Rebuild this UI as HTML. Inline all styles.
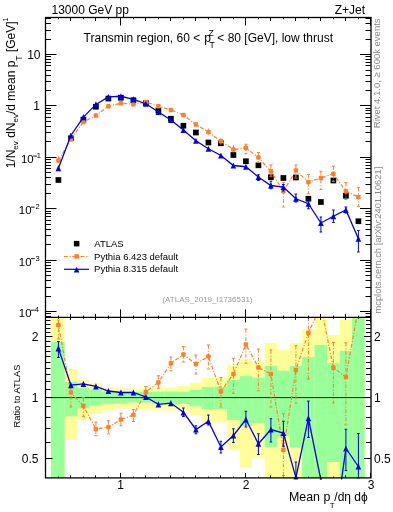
<!DOCTYPE html>
<html><head><meta charset="utf-8"><style>
html,body{margin:0;padding:0;background:#fff;width:393px;height:512px;overflow:hidden}
svg{display:block;will-change:transform}
</style></head><body>
<svg width="393" height="512" viewBox="0 0 393 512">
<rect width="393" height="512" fill="#fff"/>
<g>
<rect x="50.90" y="317.40" width="13.75" height="160.50" fill="#ffff99"/>
<rect x="64.65" y="368.90" width="12.50" height="71.10" fill="#ffff99"/>
<rect x="77.15" y="380.00" width="12.50" height="40.25" fill="#ffff99"/>
<rect x="89.65" y="382.80" width="12.50" height="31.30" fill="#ffff99"/>
<rect x="102.15" y="387.10" width="12.50" height="23.40" fill="#ffff99"/>
<rect x="114.65" y="388.10" width="12.50" height="20.55" fill="#ffff99"/>
<rect x="127.15" y="388.40" width="12.50" height="20.25" fill="#ffff99"/>
<rect x="139.65" y="388.40" width="12.50" height="20.90" fill="#ffff99"/>
<rect x="152.15" y="388.20" width="12.50" height="22.30" fill="#ffff99"/>
<rect x="164.65" y="387.50" width="12.50" height="23.00" fill="#ffff99"/>
<rect x="177.15" y="385.90" width="12.50" height="24.90" fill="#ffff99"/>
<rect x="189.65" y="382.80" width="12.50" height="32.70" fill="#ffff99"/>
<rect x="202.15" y="377.90" width="12.50" height="44.70" fill="#ffff99"/>
<rect x="214.65" y="377.50" width="12.50" height="45.10" fill="#ffff99"/>
<rect x="227.15" y="364.50" width="12.50" height="85.50" fill="#ffff99"/>
<rect x="239.65" y="359.00" width="12.50" height="108.50" fill="#ffff99"/>
<rect x="252.15" y="361.50" width="12.50" height="96.50" fill="#ffff99"/>
<rect x="264.65" y="342.80" width="12.50" height="135.10" fill="#ffff99"/>
<rect x="277.15" y="349.80" width="12.50" height="128.10" fill="#ffff99"/>
<rect x="289.65" y="342.80" width="12.50" height="135.10" fill="#ffff99"/>
<rect x="302.15" y="329.00" width="12.50" height="148.90" fill="#ffff99"/>
<rect x="314.65" y="317.40" width="12.50" height="160.50" fill="#ffff99"/>
<rect x="327.15" y="335.00" width="12.50" height="142.90" fill="#ffff99"/>
<rect x="339.65" y="319.60" width="12.50" height="158.30" fill="#ffff99"/>
<rect x="352.15" y="317.40" width="12.50" height="160.50" fill="#ffff99"/>
<rect x="50.90" y="342.00" width="13.75" height="135.90" fill="#99ff99"/>
<rect x="64.65" y="382.00" width="12.50" height="34.40" fill="#99ff99"/>
<rect x="77.15" y="387.70" width="12.50" height="20.70" fill="#99ff99"/>
<rect x="89.65" y="389.50" width="12.50" height="16.10" fill="#99ff99"/>
<rect x="102.15" y="391.40" width="12.50" height="12.40" fill="#99ff99"/>
<rect x="114.65" y="392.60" width="12.50" height="10.60" fill="#99ff99"/>
<rect x="127.15" y="392.00" width="12.50" height="10.50" fill="#99ff99"/>
<rect x="139.65" y="392.00" width="12.50" height="10.50" fill="#99ff99"/>
<rect x="152.15" y="391.70" width="12.50" height="12.10" fill="#99ff99"/>
<rect x="164.65" y="391.40" width="12.50" height="13.00" fill="#99ff99"/>
<rect x="177.15" y="391.70" width="12.50" height="12.20" fill="#99ff99"/>
<rect x="189.65" y="389.80" width="12.50" height="16.60" fill="#99ff99"/>
<rect x="202.15" y="386.85" width="12.50" height="22.35" fill="#99ff99"/>
<rect x="214.65" y="386.50" width="12.50" height="22.70" fill="#99ff99"/>
<rect x="227.15" y="379.80" width="12.50" height="40.30" fill="#99ff99"/>
<rect x="239.65" y="376.10" width="12.50" height="49.80" fill="#99ff99"/>
<rect x="252.15" y="377.75" width="12.50" height="45.25" fill="#99ff99"/>
<rect x="264.65" y="365.75" width="12.50" height="81.25" fill="#99ff99"/>
<rect x="277.15" y="370.75" width="12.50" height="65.50" fill="#99ff99"/>
<rect x="289.65" y="365.90" width="12.50" height="81.60" fill="#99ff99"/>
<rect x="302.15" y="357.10" width="12.50" height="120.80" fill="#99ff99"/>
<rect x="314.65" y="345.00" width="12.50" height="132.90" fill="#99ff99"/>
<rect x="327.15" y="363.00" width="12.50" height="99.00" fill="#99ff99"/>
<rect x="339.65" y="350.90" width="12.50" height="127.00" fill="#99ff99"/>
<rect x="352.15" y="317.40" width="12.50" height="160.50" fill="#99ff99"/>
</g>
<line x1="45.5" y1="397.6" x2="371.0" y2="397.6" stroke="#222" stroke-width="1"/>
<clipPath id="cm"><rect x="45.5" y="17.5" width="325.5" height="299.9"/></clipPath>
<clipPath id="cr"><rect x="45.5" y="317.4" width="325.5" height="162.0"/></clipPath>
<g clip-path="url(#cm)">
<rect x="55.55" y="177.15" width="5.7" height="5.7" rx="0" fill="#000"/><rect x="68.05" y="135.45" width="5.7" height="5.7" rx="0" fill="#000"/><rect x="80.55" y="116.75" width="5.7" height="5.7" rx="0" fill="#000"/><rect x="93.05" y="103.90" width="5.7" height="5.7" rx="0" fill="#000"/><rect x="105.55" y="95.75" width="5.7" height="5.7" rx="0" fill="#000"/><rect x="118.05" y="94.90" width="5.7" height="5.7" rx="0" fill="#000"/><rect x="130.55" y="97.35" width="5.7" height="5.7" rx="0" fill="#000"/><rect x="143.05" y="100.15" width="5.7" height="5.7" rx="0" fill="#000"/><rect x="155.55" y="107.65" width="5.7" height="5.7" rx="0" fill="#000"/><rect x="168.05" y="115.90" width="5.7" height="5.7" rx="0" fill="#000"/><rect x="180.55" y="122.90" width="5.7" height="5.7" rx="0" fill="#000"/><rect x="193.05" y="129.65" width="5.7" height="5.7" rx="0" fill="#000"/><rect x="205.55" y="139.65" width="5.7" height="5.7" rx="0" fill="#000"/><rect x="218.05" y="140.45" width="5.7" height="5.7" rx="0" fill="#000"/><rect x="230.55" y="152.15" width="5.7" height="5.7" rx="0" fill="#000"/><rect x="243.05" y="158.40" width="5.7" height="5.7" rx="0" fill="#000"/><rect x="255.55" y="162.45" width="5.7" height="5.7" rx="0" fill="#000"/><rect x="268.05" y="174.35" width="5.7" height="5.7" rx="0" fill="#000"/><rect x="280.55" y="175.15" width="5.7" height="5.7" rx="0" fill="#000"/><rect x="293.05" y="174.65" width="5.7" height="5.7" rx="0" fill="#000"/><rect x="305.55" y="195.90" width="5.7" height="5.7" rx="0" fill="#000"/><rect x="318.05" y="199.15" width="5.7" height="5.7" rx="0" fill="#000"/><rect x="330.55" y="177.65" width="5.7" height="5.7" rx="0" fill="#000"/><rect x="343.05" y="192.90" width="5.7" height="5.7" rx="0" fill="#000"/><rect x="355.55" y="218.40" width="5.7" height="5.7" rx="0" fill="#000"/>
<polyline points="58.40,160.60 70.90,139.20 83.40,122.00 95.90,115.50 108.40,106.25 120.90,103.25 133.40,104.25 145.90,102.00 158.40,106.25 170.90,110.00 183.40,115.00 195.90,124.50 208.40,132.00 220.90,141.25 233.40,149.50 245.90,148.00 258.40,157.50 270.90,171.25 283.40,191.25 295.90,170.50 308.40,182.00 320.90,178.00 333.40,173.75 345.90,191.25 358.40,197.00" fill="none" stroke="#ff7f2a" stroke-width="1.2" stroke-dasharray="3.8,1.9,1.1,1.5"/>
<line x1="195.90" y1="122" x2="195.90" y2="127" stroke="#ff7f2a" stroke-width="1" stroke-dasharray="3.8,1.9,1.1,1.5"/><line x1="208.40" y1="128.5" x2="208.40" y2="135.5" stroke="#ff7f2a" stroke-width="1" stroke-dasharray="3.8,1.9,1.1,1.5"/><line x1="220.90" y1="137.8" x2="220.90" y2="145.3" stroke="#ff7f2a" stroke-width="1" stroke-dasharray="3.8,1.9,1.1,1.5"/><line x1="233.40" y1="145" x2="233.40" y2="153.75" stroke="#ff7f2a" stroke-width="1" stroke-dasharray="3.8,1.9,1.1,1.5"/><line x1="245.90" y1="144.25" x2="245.90" y2="153.75" stroke="#ff7f2a" stroke-width="1" stroke-dasharray="3.8,1.9,1.1,1.5"/><line x1="244.40" y1="144.25" x2="247.40" y2="144.25" stroke="#ff7f2a" stroke-width="1"/><line x1="244.40" y1="153.75" x2="247.40" y2="153.75" stroke="#ff7f2a" stroke-width="1"/><line x1="258.40" y1="152.5" x2="258.40" y2="162.5" stroke="#ff7f2a" stroke-width="1" stroke-dasharray="3.8,1.9,1.1,1.5"/><line x1="256.90" y1="152.5" x2="259.90" y2="152.5" stroke="#ff7f2a" stroke-width="1"/><line x1="256.90" y1="162.5" x2="259.90" y2="162.5" stroke="#ff7f2a" stroke-width="1"/><line x1="270.90" y1="165" x2="270.90" y2="176.25" stroke="#ff7f2a" stroke-width="1" stroke-dasharray="3.8,1.9,1.1,1.5"/><line x1="269.40" y1="165" x2="272.40" y2="165" stroke="#ff7f2a" stroke-width="1"/><line x1="269.40" y1="176.25" x2="272.40" y2="176.25" stroke="#ff7f2a" stroke-width="1"/><line x1="283.40" y1="182.5" x2="283.40" y2="207" stroke="#ff7f2a" stroke-width="1" stroke-dasharray="3.8,1.9,1.1,1.5"/><line x1="281.90" y1="182.5" x2="284.90" y2="182.5" stroke="#ff7f2a" stroke-width="1"/><line x1="281.90" y1="207" x2="284.90" y2="207" stroke="#ff7f2a" stroke-width="1"/><line x1="295.90" y1="165" x2="295.90" y2="178" stroke="#ff7f2a" stroke-width="1" stroke-dasharray="3.8,1.9,1.1,1.5"/><line x1="294.40" y1="165" x2="297.40" y2="165" stroke="#ff7f2a" stroke-width="1"/><line x1="294.40" y1="178" x2="297.40" y2="178" stroke="#ff7f2a" stroke-width="1"/><line x1="308.40" y1="174.5" x2="308.40" y2="193.75" stroke="#ff7f2a" stroke-width="1" stroke-dasharray="3.8,1.9,1.1,1.5"/><line x1="306.90" y1="174.5" x2="309.90" y2="174.5" stroke="#ff7f2a" stroke-width="1"/><line x1="306.90" y1="193.75" x2="309.90" y2="193.75" stroke="#ff7f2a" stroke-width="1"/><line x1="320.90" y1="171.25" x2="320.90" y2="189.4" stroke="#ff7f2a" stroke-width="1" stroke-dasharray="3.8,1.9,1.1,1.5"/><line x1="319.40" y1="171.25" x2="322.40" y2="171.25" stroke="#ff7f2a" stroke-width="1"/><line x1="319.40" y1="189.4" x2="322.40" y2="189.4" stroke="#ff7f2a" stroke-width="1"/><line x1="333.40" y1="166.25" x2="333.40" y2="181.25" stroke="#ff7f2a" stroke-width="1" stroke-dasharray="3.8,1.9,1.1,1.5"/><line x1="331.90" y1="166.25" x2="334.90" y2="166.25" stroke="#ff7f2a" stroke-width="1"/><line x1="331.90" y1="181.25" x2="334.90" y2="181.25" stroke="#ff7f2a" stroke-width="1"/><line x1="345.90" y1="182.5" x2="345.90" y2="199.5" stroke="#ff7f2a" stroke-width="1" stroke-dasharray="3.8,1.9,1.1,1.5"/><line x1="344.40" y1="182.5" x2="347.40" y2="182.5" stroke="#ff7f2a" stroke-width="1"/><line x1="344.40" y1="199.5" x2="347.40" y2="199.5" stroke="#ff7f2a" stroke-width="1"/><line x1="358.40" y1="187.5" x2="358.40" y2="206.25" stroke="#ff7f2a" stroke-width="1" stroke-dasharray="3.8,1.9,1.1,1.5"/><line x1="356.90" y1="187.5" x2="359.90" y2="187.5" stroke="#ff7f2a" stroke-width="1"/><line x1="356.90" y1="206.25" x2="359.90" y2="206.25" stroke="#ff7f2a" stroke-width="1"/><line x1="58.40" y1="156.25" x2="58.40" y2="164.4" stroke="#ff7f2a" stroke-width="1" stroke-dasharray="3.8,1.9,1.1,1.5"/>
<rect x="56.15" y="158.35" width="4.5" height="4.5" rx="1" fill="#ff7f2a"/><rect x="68.65" y="136.95" width="4.5" height="4.5" rx="1" fill="#ff7f2a"/><rect x="81.15" y="119.75" width="4.5" height="4.5" rx="1" fill="#ff7f2a"/><rect x="93.65" y="113.25" width="4.5" height="4.5" rx="1" fill="#ff7f2a"/><rect x="106.15" y="104.00" width="4.5" height="4.5" rx="1" fill="#ff7f2a"/><rect x="118.65" y="101.00" width="4.5" height="4.5" rx="1" fill="#ff7f2a"/><rect x="131.15" y="102.00" width="4.5" height="4.5" rx="1" fill="#ff7f2a"/><rect x="143.65" y="99.75" width="4.5" height="4.5" rx="1" fill="#ff7f2a"/><rect x="156.15" y="104.00" width="4.5" height="4.5" rx="1" fill="#ff7f2a"/><rect x="168.65" y="107.75" width="4.5" height="4.5" rx="1" fill="#ff7f2a"/><rect x="181.15" y="112.75" width="4.5" height="4.5" rx="1" fill="#ff7f2a"/><rect x="193.65" y="122.25" width="4.5" height="4.5" rx="1" fill="#ff7f2a"/><rect x="206.15" y="129.75" width="4.5" height="4.5" rx="1" fill="#ff7f2a"/><rect x="218.65" y="139.00" width="4.5" height="4.5" rx="1" fill="#ff7f2a"/><rect x="231.15" y="147.25" width="4.5" height="4.5" rx="1" fill="#ff7f2a"/><rect x="243.65" y="145.75" width="4.5" height="4.5" rx="1" fill="#ff7f2a"/><rect x="256.15" y="155.25" width="4.5" height="4.5" rx="1" fill="#ff7f2a"/><rect x="268.65" y="169.00" width="4.5" height="4.5" rx="1" fill="#ff7f2a"/><rect x="281.15" y="189.00" width="4.5" height="4.5" rx="1" fill="#ff7f2a"/><rect x="293.65" y="168.25" width="4.5" height="4.5" rx="1" fill="#ff7f2a"/><rect x="306.15" y="179.75" width="4.5" height="4.5" rx="1" fill="#ff7f2a"/><rect x="318.65" y="175.75" width="4.5" height="4.5" rx="1" fill="#ff7f2a"/><rect x="331.15" y="171.50" width="4.5" height="4.5" rx="1" fill="#ff7f2a"/><rect x="343.65" y="189.00" width="4.5" height="4.5" rx="1" fill="#ff7f2a"/><rect x="356.15" y="194.75" width="4.5" height="4.5" rx="1" fill="#ff7f2a"/>
<polyline points="58.40,168.20 70.90,135.50 83.40,117.10 95.90,104.40 108.40,96.85 120.90,96.25 133.40,99.40 145.90,103.75 158.40,112.00 170.90,120.00 183.40,130.00 195.90,140.75 208.40,148.75 220.90,155.50 233.40,165.50 245.90,166.75 258.40,177.00 270.90,185.50 283.40,187.00 295.90,198.75 308.40,203.75 320.90,223.00 333.40,216.25 345.90,210.00 358.40,238.75" fill="none" stroke="#0000e6" stroke-width="1.3"/>
<line x1="258.40" y1="174.75" x2="258.40" y2="180.5" stroke="#0000e6" stroke-width="1" /><line x1="257.10" y1="174.75" x2="259.70" y2="174.75" stroke="#0000e6" stroke-width="1"/><line x1="257.10" y1="180.5" x2="259.70" y2="180.5" stroke="#0000e6" stroke-width="1"/><line x1="270.90" y1="181.25" x2="270.90" y2="188.75" stroke="#0000e6" stroke-width="1" /><line x1="269.60" y1="181.25" x2="272.20" y2="181.25" stroke="#0000e6" stroke-width="1"/><line x1="269.60" y1="188.75" x2="272.20" y2="188.75" stroke="#0000e6" stroke-width="1"/><line x1="283.40" y1="184.5" x2="283.40" y2="191" stroke="#0000e6" stroke-width="1" /><line x1="282.10" y1="184.5" x2="284.70" y2="184.5" stroke="#0000e6" stroke-width="1"/><line x1="282.10" y1="191" x2="284.70" y2="191" stroke="#0000e6" stroke-width="1"/><line x1="295.90" y1="194" x2="295.90" y2="202" stroke="#0000e6" stroke-width="1" /><line x1="294.60" y1="194" x2="297.20" y2="194" stroke="#0000e6" stroke-width="1"/><line x1="294.60" y1="202" x2="297.20" y2="202" stroke="#0000e6" stroke-width="1"/><line x1="308.40" y1="200" x2="308.40" y2="208.75" stroke="#0000e6" stroke-width="1" /><line x1="307.10" y1="200" x2="309.70" y2="200" stroke="#0000e6" stroke-width="1"/><line x1="307.10" y1="208.75" x2="309.70" y2="208.75" stroke="#0000e6" stroke-width="1"/><line x1="320.90" y1="217" x2="320.90" y2="232" stroke="#0000e6" stroke-width="1" /><line x1="319.60" y1="217" x2="322.20" y2="217" stroke="#0000e6" stroke-width="1"/><line x1="319.60" y1="232" x2="322.20" y2="232" stroke="#0000e6" stroke-width="1"/><line x1="333.40" y1="210" x2="333.40" y2="222.5" stroke="#0000e6" stroke-width="1" /><line x1="332.10" y1="210" x2="334.70" y2="210" stroke="#0000e6" stroke-width="1"/><line x1="332.10" y1="222.5" x2="334.70" y2="222.5" stroke="#0000e6" stroke-width="1"/><line x1="345.90" y1="207" x2="345.90" y2="213" stroke="#0000e6" stroke-width="1" /><line x1="344.60" y1="207" x2="347.20" y2="207" stroke="#0000e6" stroke-width="1"/><line x1="344.60" y1="213" x2="347.20" y2="213" stroke="#0000e6" stroke-width="1"/><line x1="358.40" y1="230.5" x2="358.40" y2="252" stroke="#0000e6" stroke-width="1" /><line x1="357.10" y1="230.5" x2="359.70" y2="230.5" stroke="#0000e6" stroke-width="1"/><line x1="357.10" y1="252" x2="359.70" y2="252" stroke="#0000e6" stroke-width="1"/>
<polygon points="58.40,165.10 61.20,171.30 55.60,171.30" fill="#0000e6"/><polygon points="70.90,132.40 73.70,138.60 68.10,138.60" fill="#0000e6"/><polygon points="83.40,114.00 86.20,120.20 80.60,120.20" fill="#0000e6"/><polygon points="95.90,101.30 98.70,107.50 93.10,107.50" fill="#0000e6"/><polygon points="108.40,93.75 111.20,99.95 105.60,99.95" fill="#0000e6"/><polygon points="120.90,93.15 123.70,99.35 118.10,99.35" fill="#0000e6"/><polygon points="133.40,96.30 136.20,102.50 130.60,102.50" fill="#0000e6"/><polygon points="145.90,100.65 148.70,106.85 143.10,106.85" fill="#0000e6"/><polygon points="158.40,108.90 161.20,115.10 155.60,115.10" fill="#0000e6"/><polygon points="170.90,116.90 173.70,123.10 168.10,123.10" fill="#0000e6"/><polygon points="183.40,126.90 186.20,133.10 180.60,133.10" fill="#0000e6"/><polygon points="195.90,137.65 198.70,143.85 193.10,143.85" fill="#0000e6"/><polygon points="208.40,145.65 211.20,151.85 205.60,151.85" fill="#0000e6"/><polygon points="220.90,152.40 223.70,158.60 218.10,158.60" fill="#0000e6"/><polygon points="233.40,162.40 236.20,168.60 230.60,168.60" fill="#0000e6"/><polygon points="245.90,163.65 248.70,169.85 243.10,169.85" fill="#0000e6"/><polygon points="258.40,173.90 261.20,180.10 255.60,180.10" fill="#0000e6"/><polygon points="270.90,182.40 273.70,188.60 268.10,188.60" fill="#0000e6"/><polygon points="283.40,183.90 286.20,190.10 280.60,190.10" fill="#0000e6"/><polygon points="295.90,195.65 298.70,201.85 293.10,201.85" fill="#0000e6"/><polygon points="308.40,200.65 311.20,206.85 305.60,206.85" fill="#0000e6"/><polygon points="320.90,219.90 323.70,226.10 318.10,226.10" fill="#0000e6"/><polygon points="333.40,213.15 336.20,219.35 330.60,219.35" fill="#0000e6"/><polygon points="345.90,206.90 348.70,213.10 343.10,213.10" fill="#0000e6"/><polygon points="358.40,235.65 361.20,241.85 355.60,241.85" fill="#0000e6"/>
</g>
<g clip-path="url(#cr)">
<polyline points="58.40,325.00 70.90,392.60 83.40,406.00 95.90,429.00 108.40,427.00 120.90,419.50 133.40,415.00 145.90,392.00 158.40,382.50 170.90,363.25 183.40,354.50 195.90,364.00 208.40,356.50 220.90,391.50 233.40,374.00 245.90,344.50 258.40,367.50 270.90,374.00 283.40,450.00 295.90,370.00 308.40,332.75 320.90,306.00 333.40,367.75 345.90,377.00 358.40,307.70" fill="none" stroke="#ff7f2a" stroke-width="1.2" stroke-dasharray="3.8,1.9,1.1,1.5"/>
<line x1="58.40" y1="320" x2="58.40" y2="339" stroke="#ff7f2a" stroke-width="1" stroke-dasharray="3.8,1.9,1.1,1.5"/><line x1="56.90" y1="320" x2="59.90" y2="320" stroke="#ff7f2a" stroke-width="1"/><line x1="56.90" y1="339" x2="59.90" y2="339" stroke="#ff7f2a" stroke-width="1"/><line x1="133.40" y1="409.5" x2="133.40" y2="421.5" stroke="#ff7f2a" stroke-width="1" stroke-dasharray="3.8,1.9,1.1,1.5"/><line x1="131.90" y1="409.5" x2="134.90" y2="409.5" stroke="#ff7f2a" stroke-width="1"/><line x1="131.90" y1="421.5" x2="134.90" y2="421.5" stroke="#ff7f2a" stroke-width="1"/><line x1="70.90" y1="387.6" x2="70.90" y2="407" stroke="#ff7f2a" stroke-width="1" stroke-dasharray="3.8,1.9,1.1,1.5"/><line x1="69.40" y1="387.6" x2="72.40" y2="387.6" stroke="#ff7f2a" stroke-width="1"/><line x1="69.40" y1="407" x2="72.40" y2="407" stroke="#ff7f2a" stroke-width="1"/><line x1="83.40" y1="397.6" x2="83.40" y2="416.4" stroke="#ff7f2a" stroke-width="1" stroke-dasharray="3.8,1.9,1.1,1.5"/><line x1="81.90" y1="397.6" x2="84.90" y2="397.6" stroke="#ff7f2a" stroke-width="1"/><line x1="81.90" y1="416.4" x2="84.90" y2="416.4" stroke="#ff7f2a" stroke-width="1"/><line x1="95.90" y1="422" x2="95.90" y2="435.75" stroke="#ff7f2a" stroke-width="1" stroke-dasharray="3.8,1.9,1.1,1.5"/><line x1="94.40" y1="422" x2="97.40" y2="422" stroke="#ff7f2a" stroke-width="1"/><line x1="94.40" y1="435.75" x2="97.40" y2="435.75" stroke="#ff7f2a" stroke-width="1"/><line x1="108.40" y1="420.75" x2="108.40" y2="434" stroke="#ff7f2a" stroke-width="1" stroke-dasharray="3.8,1.9,1.1,1.5"/><line x1="106.90" y1="420.75" x2="109.90" y2="420.75" stroke="#ff7f2a" stroke-width="1"/><line x1="106.90" y1="434" x2="109.90" y2="434" stroke="#ff7f2a" stroke-width="1"/><line x1="120.90" y1="413.25" x2="120.90" y2="425.75" stroke="#ff7f2a" stroke-width="1" stroke-dasharray="3.8,1.9,1.1,1.5"/><line x1="119.40" y1="413.25" x2="122.40" y2="413.25" stroke="#ff7f2a" stroke-width="1"/><line x1="119.40" y1="425.75" x2="122.40" y2="425.75" stroke="#ff7f2a" stroke-width="1"/><line x1="145.90" y1="386.5" x2="145.90" y2="396.5" stroke="#ff7f2a" stroke-width="1" stroke-dasharray="3.8,1.9,1.1,1.5"/><line x1="144.40" y1="386.5" x2="147.40" y2="386.5" stroke="#ff7f2a" stroke-width="1"/><line x1="144.40" y1="396.5" x2="147.40" y2="396.5" stroke="#ff7f2a" stroke-width="1"/><line x1="158.40" y1="375.75" x2="158.40" y2="388.25" stroke="#ff7f2a" stroke-width="1" stroke-dasharray="3.8,1.9,1.1,1.5"/><line x1="156.90" y1="375.75" x2="159.90" y2="375.75" stroke="#ff7f2a" stroke-width="1"/><line x1="156.90" y1="388.25" x2="159.90" y2="388.25" stroke="#ff7f2a" stroke-width="1"/><line x1="170.90" y1="357" x2="170.90" y2="370.75" stroke="#ff7f2a" stroke-width="1" stroke-dasharray="3.8,1.9,1.1,1.5"/><line x1="169.40" y1="357" x2="172.40" y2="357" stroke="#ff7f2a" stroke-width="1"/><line x1="169.40" y1="370.75" x2="172.40" y2="370.75" stroke="#ff7f2a" stroke-width="1"/><line x1="183.40" y1="346.5" x2="183.40" y2="362" stroke="#ff7f2a" stroke-width="1" stroke-dasharray="3.8,1.9,1.1,1.5"/><line x1="181.90" y1="346.5" x2="184.90" y2="346.5" stroke="#ff7f2a" stroke-width="1"/><line x1="181.90" y1="362" x2="184.90" y2="362" stroke="#ff7f2a" stroke-width="1"/><line x1="195.90" y1="355" x2="195.90" y2="374" stroke="#ff7f2a" stroke-width="1" stroke-dasharray="3.8,1.9,1.1,1.5"/><line x1="194.40" y1="355" x2="197.40" y2="355" stroke="#ff7f2a" stroke-width="1"/><line x1="194.40" y1="374" x2="197.40" y2="374" stroke="#ff7f2a" stroke-width="1"/><line x1="208.40" y1="345" x2="208.40" y2="369" stroke="#ff7f2a" stroke-width="1" stroke-dasharray="3.8,1.9,1.1,1.5"/><line x1="206.90" y1="345" x2="209.90" y2="345" stroke="#ff7f2a" stroke-width="1"/><line x1="206.90" y1="369" x2="209.90" y2="369" stroke="#ff7f2a" stroke-width="1"/><line x1="220.90" y1="377.5" x2="220.90" y2="407" stroke="#ff7f2a" stroke-width="1" stroke-dasharray="3.8,1.9,1.1,1.5"/><line x1="219.40" y1="377.5" x2="222.40" y2="377.5" stroke="#ff7f2a" stroke-width="1"/><line x1="219.40" y1="407" x2="222.40" y2="407" stroke="#ff7f2a" stroke-width="1"/><line x1="233.40" y1="358.25" x2="233.40" y2="393.25" stroke="#ff7f2a" stroke-width="1" stroke-dasharray="3.8,1.9,1.1,1.5"/><line x1="231.90" y1="358.25" x2="234.90" y2="358.25" stroke="#ff7f2a" stroke-width="1"/><line x1="231.90" y1="393.25" x2="234.90" y2="393.25" stroke="#ff7f2a" stroke-width="1"/><line x1="245.90" y1="329" x2="245.90" y2="363.25" stroke="#ff7f2a" stroke-width="1" stroke-dasharray="3.8,1.9,1.1,1.5"/><line x1="244.40" y1="329" x2="247.40" y2="329" stroke="#ff7f2a" stroke-width="1"/><line x1="244.40" y1="363.25" x2="247.40" y2="363.25" stroke="#ff7f2a" stroke-width="1"/><line x1="258.40" y1="349" x2="258.40" y2="390.75" stroke="#ff7f2a" stroke-width="1" stroke-dasharray="3.8,1.9,1.1,1.5"/><line x1="256.90" y1="349" x2="259.90" y2="349" stroke="#ff7f2a" stroke-width="1"/><line x1="256.90" y1="390.75" x2="259.90" y2="390.75" stroke="#ff7f2a" stroke-width="1"/><line x1="270.90" y1="350" x2="270.90" y2="407" stroke="#ff7f2a" stroke-width="1" stroke-dasharray="3.8,1.9,1.1,1.5"/><line x1="269.40" y1="350" x2="272.40" y2="350" stroke="#ff7f2a" stroke-width="1"/><line x1="269.40" y1="407" x2="272.40" y2="407" stroke="#ff7f2a" stroke-width="1"/><line x1="283.40" y1="413.75" x2="283.40" y2="475.5" stroke="#ff7f2a" stroke-width="1" stroke-dasharray="3.8,1.9,1.1,1.5"/><line x1="281.90" y1="413.75" x2="284.90" y2="413.75" stroke="#ff7f2a" stroke-width="1"/><line x1="281.90" y1="475.5" x2="284.90" y2="475.5" stroke="#ff7f2a" stroke-width="1"/><line x1="295.90" y1="345.75" x2="295.90" y2="403.25" stroke="#ff7f2a" stroke-width="1" stroke-dasharray="3.8,1.9,1.1,1.5"/><line x1="294.40" y1="345.75" x2="297.40" y2="345.75" stroke="#ff7f2a" stroke-width="1"/><line x1="294.40" y1="403.25" x2="297.40" y2="403.25" stroke="#ff7f2a" stroke-width="1"/><line x1="308.40" y1="317.4" x2="308.40" y2="379" stroke="#ff7f2a" stroke-width="1" stroke-dasharray="3.8,1.9,1.1,1.5"/><line x1="306.90" y1="317.4" x2="309.90" y2="317.4" stroke="#ff7f2a" stroke-width="1"/><line x1="306.90" y1="379" x2="309.90" y2="379" stroke="#ff7f2a" stroke-width="1"/><line x1="333.40" y1="342.5" x2="333.40" y2="403" stroke="#ff7f2a" stroke-width="1" stroke-dasharray="3.8,1.9,1.1,1.5"/><line x1="331.90" y1="342.5" x2="334.90" y2="342.5" stroke="#ff7f2a" stroke-width="1"/><line x1="331.90" y1="403" x2="334.90" y2="403" stroke="#ff7f2a" stroke-width="1"/><line x1="345.90" y1="342.75" x2="345.90" y2="424.9" stroke="#ff7f2a" stroke-width="1" stroke-dasharray="3.8,1.9,1.1,1.5"/><line x1="344.40" y1="342.75" x2="347.40" y2="342.75" stroke="#ff7f2a" stroke-width="1"/><line x1="344.40" y1="424.9" x2="347.40" y2="424.9" stroke="#ff7f2a" stroke-width="1"/>
<rect x="56.15" y="322.75" width="4.5" height="4.5" rx="1" fill="#ff7f2a"/><rect x="68.65" y="390.35" width="4.5" height="4.5" rx="1" fill="#ff7f2a"/><rect x="81.15" y="403.75" width="4.5" height="4.5" rx="1" fill="#ff7f2a"/><rect x="93.65" y="426.75" width="4.5" height="4.5" rx="1" fill="#ff7f2a"/><rect x="106.15" y="424.75" width="4.5" height="4.5" rx="1" fill="#ff7f2a"/><rect x="118.65" y="417.25" width="4.5" height="4.5" rx="1" fill="#ff7f2a"/><rect x="131.15" y="412.75" width="4.5" height="4.5" rx="1" fill="#ff7f2a"/><rect x="143.65" y="389.75" width="4.5" height="4.5" rx="1" fill="#ff7f2a"/><rect x="156.15" y="380.25" width="4.5" height="4.5" rx="1" fill="#ff7f2a"/><rect x="168.65" y="361.00" width="4.5" height="4.5" rx="1" fill="#ff7f2a"/><rect x="181.15" y="352.25" width="4.5" height="4.5" rx="1" fill="#ff7f2a"/><rect x="193.65" y="361.75" width="4.5" height="4.5" rx="1" fill="#ff7f2a"/><rect x="206.15" y="354.25" width="4.5" height="4.5" rx="1" fill="#ff7f2a"/><rect x="218.65" y="389.25" width="4.5" height="4.5" rx="1" fill="#ff7f2a"/><rect x="231.15" y="371.75" width="4.5" height="4.5" rx="1" fill="#ff7f2a"/><rect x="243.65" y="342.25" width="4.5" height="4.5" rx="1" fill="#ff7f2a"/><rect x="256.15" y="365.25" width="4.5" height="4.5" rx="1" fill="#ff7f2a"/><rect x="268.65" y="371.75" width="4.5" height="4.5" rx="1" fill="#ff7f2a"/><rect x="281.15" y="447.75" width="4.5" height="4.5" rx="1" fill="#ff7f2a"/><rect x="293.65" y="367.75" width="4.5" height="4.5" rx="1" fill="#ff7f2a"/><rect x="306.15" y="330.50" width="4.5" height="4.5" rx="1" fill="#ff7f2a"/><rect x="318.65" y="303.75" width="4.5" height="4.5" rx="1" fill="#ff7f2a"/><rect x="331.15" y="365.50" width="4.5" height="4.5" rx="1" fill="#ff7f2a"/><rect x="343.65" y="374.75" width="4.5" height="4.5" rx="1" fill="#ff7f2a"/><rect x="356.15" y="305.45" width="4.5" height="4.5" rx="1" fill="#ff7f2a"/>
<polyline points="58.40,348.40 70.90,385.10 83.40,383.90 95.90,386.40 108.40,391.00 120.90,392.50 133.40,392.50 145.90,397.00 158.40,404.40 170.90,403.10 183.40,412.30 195.90,429.50 208.40,421.25 220.90,447.00 233.40,435.50 245.90,419.50 258.40,443.75 270.90,429.50 283.40,433.00 295.90,477.60 308.40,418.25 320.90,480.10 333.40,538.00 345.90,448.50 358.40,466.50" fill="none" stroke="#0000e6" stroke-width="1.3"/>
<line x1="58.40" y1="341.5" x2="58.40" y2="357.5" stroke="#0000e6" stroke-width="1" /><line x1="57.10" y1="341.5" x2="59.70" y2="341.5" stroke="#0000e6" stroke-width="1"/><line x1="57.10" y1="357.5" x2="59.70" y2="357.5" stroke="#0000e6" stroke-width="1"/><line x1="183.40" y1="408" x2="183.40" y2="416.5" stroke="#0000e6" stroke-width="1" /><line x1="182.10" y1="408" x2="184.70" y2="408" stroke="#0000e6" stroke-width="1"/><line x1="182.10" y1="416.5" x2="184.70" y2="416.5" stroke="#0000e6" stroke-width="1"/><line x1="195.90" y1="425.75" x2="195.90" y2="433.75" stroke="#0000e6" stroke-width="1" /><line x1="194.60" y1="425.75" x2="197.20" y2="425.75" stroke="#0000e6" stroke-width="1"/><line x1="194.60" y1="433.75" x2="197.20" y2="433.75" stroke="#0000e6" stroke-width="1"/><line x1="208.40" y1="415" x2="208.40" y2="425" stroke="#0000e6" stroke-width="1" /><line x1="207.10" y1="415" x2="209.70" y2="415" stroke="#0000e6" stroke-width="1"/><line x1="207.10" y1="425" x2="209.70" y2="425" stroke="#0000e6" stroke-width="1"/><line x1="220.90" y1="441.25" x2="220.90" y2="453" stroke="#0000e6" stroke-width="1" /><line x1="219.60" y1="441.25" x2="222.20" y2="441.25" stroke="#0000e6" stroke-width="1"/><line x1="219.60" y1="453" x2="222.20" y2="453" stroke="#0000e6" stroke-width="1"/><line x1="233.40" y1="428.75" x2="233.40" y2="442.5" stroke="#0000e6" stroke-width="1" /><line x1="232.10" y1="428.75" x2="234.70" y2="428.75" stroke="#0000e6" stroke-width="1"/><line x1="232.10" y1="442.5" x2="234.70" y2="442.5" stroke="#0000e6" stroke-width="1"/><line x1="245.90" y1="411.25" x2="245.90" y2="427" stroke="#0000e6" stroke-width="1" /><line x1="244.60" y1="411.25" x2="247.20" y2="411.25" stroke="#0000e6" stroke-width="1"/><line x1="244.60" y1="427" x2="247.20" y2="427" stroke="#0000e6" stroke-width="1"/><line x1="258.40" y1="433.75" x2="258.40" y2="454.5" stroke="#0000e6" stroke-width="1" /><line x1="257.10" y1="433.75" x2="259.70" y2="433.75" stroke="#0000e6" stroke-width="1"/><line x1="257.10" y1="454.5" x2="259.70" y2="454.5" stroke="#0000e6" stroke-width="1"/><line x1="270.90" y1="418.75" x2="270.90" y2="442" stroke="#0000e6" stroke-width="1" /><line x1="269.60" y1="418.75" x2="272.20" y2="418.75" stroke="#0000e6" stroke-width="1"/><line x1="269.60" y1="442" x2="272.20" y2="442" stroke="#0000e6" stroke-width="1"/><line x1="283.40" y1="421.25" x2="283.40" y2="446.3" stroke="#0000e6" stroke-width="1" /><line x1="282.10" y1="421.25" x2="284.70" y2="421.25" stroke="#0000e6" stroke-width="1"/><line x1="282.10" y1="446.3" x2="284.70" y2="446.3" stroke="#0000e6" stroke-width="1"/><line x1="295.90" y1="462" x2="295.90" y2="477.9" stroke="#0000e6" stroke-width="1" /><line x1="294.60" y1="462" x2="297.20" y2="462" stroke="#0000e6" stroke-width="1"/><line x1="294.60" y1="477.9" x2="297.20" y2="477.9" stroke="#0000e6" stroke-width="1"/><line x1="308.40" y1="401.1" x2="308.40" y2="437.4" stroke="#0000e6" stroke-width="1" /><line x1="307.10" y1="401.1" x2="309.70" y2="401.1" stroke="#0000e6" stroke-width="1"/><line x1="307.10" y1="437.4" x2="309.70" y2="437.4" stroke="#0000e6" stroke-width="1"/><line x1="345.90" y1="429.25" x2="345.90" y2="470.6" stroke="#0000e6" stroke-width="1" /><line x1="344.60" y1="429.25" x2="347.20" y2="429.25" stroke="#0000e6" stroke-width="1"/><line x1="344.60" y1="470.6" x2="347.20" y2="470.6" stroke="#0000e6" stroke-width="1"/><line x1="358.40" y1="433.5" x2="358.40" y2="477.9" stroke="#0000e6" stroke-width="1" /><line x1="357.10" y1="433.5" x2="359.70" y2="433.5" stroke="#0000e6" stroke-width="1"/><line x1="357.10" y1="477.9" x2="359.70" y2="477.9" stroke="#0000e6" stroke-width="1"/>
<polygon points="58.40,345.30 61.20,351.50 55.60,351.50" fill="#0000e6"/><polygon points="70.90,382.00 73.70,388.20 68.10,388.20" fill="#0000e6"/><polygon points="83.40,380.80 86.20,387.00 80.60,387.00" fill="#0000e6"/><polygon points="95.90,383.30 98.70,389.50 93.10,389.50" fill="#0000e6"/><polygon points="108.40,387.90 111.20,394.10 105.60,394.10" fill="#0000e6"/><polygon points="120.90,389.40 123.70,395.60 118.10,395.60" fill="#0000e6"/><polygon points="133.40,389.40 136.20,395.60 130.60,395.60" fill="#0000e6"/><polygon points="145.90,393.90 148.70,400.10 143.10,400.10" fill="#0000e6"/><polygon points="158.40,401.30 161.20,407.50 155.60,407.50" fill="#0000e6"/><polygon points="170.90,400.00 173.70,406.20 168.10,406.20" fill="#0000e6"/><polygon points="183.40,409.20 186.20,415.40 180.60,415.40" fill="#0000e6"/><polygon points="195.90,426.40 198.70,432.60 193.10,432.60" fill="#0000e6"/><polygon points="208.40,418.15 211.20,424.35 205.60,424.35" fill="#0000e6"/><polygon points="220.90,443.90 223.70,450.10 218.10,450.10" fill="#0000e6"/><polygon points="233.40,432.40 236.20,438.60 230.60,438.60" fill="#0000e6"/><polygon points="245.90,416.40 248.70,422.60 243.10,422.60" fill="#0000e6"/><polygon points="258.40,440.65 261.20,446.85 255.60,446.85" fill="#0000e6"/><polygon points="270.90,426.40 273.70,432.60 268.10,432.60" fill="#0000e6"/><polygon points="283.40,429.90 286.20,436.10 280.60,436.10" fill="#0000e6"/><polygon points="295.90,474.50 298.70,480.70 293.10,480.70" fill="#0000e6"/><polygon points="308.40,415.15 311.20,421.35 305.60,421.35" fill="#0000e6"/><polygon points="320.90,477.00 323.70,483.20 318.10,483.20" fill="#0000e6"/><polygon points="333.40,534.90 336.20,541.10 330.60,541.10" fill="#0000e6"/><polygon points="345.90,445.40 348.70,451.60 343.10,451.60" fill="#0000e6"/><polygon points="358.40,463.40 361.20,469.60 355.60,469.60" fill="#0000e6"/>
</g>
<rect x="45.5" y="17.5" width="325.5" height="460.4" fill="none" stroke="#000" stroke-width="1.3"/><line x1="45.5" y1="317.4" x2="371.0" y2="317.4" stroke="#000" stroke-width="1.3"/><path d="M45.50,17.50L45.50,21.00M45.50,317.40L45.50,313.90M45.50,317.40L45.50,319.90M45.50,477.90L45.50,475.40M58.50,17.50L58.50,19.30M58.50,317.40L58.50,315.60M58.50,317.40L58.50,318.70M58.50,477.90L58.50,476.60M70.50,17.50L70.50,21.00M70.50,317.40L70.50,313.90M70.50,317.40L70.50,319.90M70.50,477.90L70.50,475.40M83.50,17.50L83.50,19.30M83.50,317.40L83.50,315.60M83.50,317.40L83.50,318.70M83.50,477.90L83.50,476.60M95.50,17.50L95.50,21.00M95.50,317.40L95.50,313.90M95.50,317.40L95.50,319.90M95.50,477.90L95.50,475.40M108.50,17.50L108.50,19.30M108.50,317.40L108.50,315.60M108.50,317.40L108.50,318.70M108.50,477.90L108.50,476.60M120.50,17.50L120.50,25.50M120.50,317.40L120.50,309.40M120.50,317.40L120.50,322.40M120.50,477.90L120.50,472.90M133.50,17.50L133.50,19.30M133.50,317.40L133.50,315.60M133.50,317.40L133.50,318.70M133.50,477.90L133.50,476.60M145.50,17.50L145.50,21.00M145.50,317.40L145.50,313.90M145.50,317.40L145.50,319.90M145.50,477.90L145.50,475.40M158.50,17.50L158.50,19.30M158.50,317.40L158.50,315.60M158.50,317.40L158.50,318.70M158.50,477.90L158.50,476.60M170.50,17.50L170.50,21.00M170.50,317.40L170.50,313.90M170.50,317.40L170.50,319.90M170.50,477.90L170.50,475.40M183.50,17.50L183.50,19.30M183.50,317.40L183.50,315.60M183.50,317.40L183.50,318.70M183.50,477.90L183.50,476.60M195.50,17.50L195.50,21.00M195.50,317.40L195.50,313.90M195.50,317.40L195.50,319.90M195.50,477.90L195.50,475.40M208.50,17.50L208.50,19.30M208.50,317.40L208.50,315.60M208.50,317.40L208.50,318.70M208.50,477.90L208.50,476.60M220.50,17.50L220.50,21.00M220.50,317.40L220.50,313.90M220.50,317.40L220.50,319.90M220.50,477.90L220.50,475.40M233.50,17.50L233.50,19.30M233.50,317.40L233.50,315.60M233.50,317.40L233.50,318.70M233.50,477.90L233.50,476.60M245.50,17.50L245.50,25.50M245.50,317.40L245.50,309.40M245.50,317.40L245.50,322.40M245.50,477.90L245.50,472.90M258.50,17.50L258.50,19.30M258.50,317.40L258.50,315.60M258.50,317.40L258.50,318.70M258.50,477.90L258.50,476.60M270.50,17.50L270.50,21.00M270.50,317.40L270.50,313.90M270.50,317.40L270.50,319.90M270.50,477.90L270.50,475.40M283.50,17.50L283.50,19.30M283.50,317.40L283.50,315.60M283.50,317.40L283.50,318.70M283.50,477.90L283.50,476.60M295.50,17.50L295.50,21.00M295.50,317.40L295.50,313.90M295.50,317.40L295.50,319.90M295.50,477.90L295.50,475.40M308.50,17.50L308.50,19.30M308.50,317.40L308.50,315.60M308.50,317.40L308.50,318.70M308.50,477.90L308.50,476.60M320.50,17.50L320.50,21.00M320.50,317.40L320.50,313.90M320.50,317.40L320.50,319.90M320.50,477.90L320.50,475.40M333.50,17.50L333.50,19.30M333.50,317.40L333.50,315.60M333.50,317.40L333.50,318.70M333.50,477.90L333.50,476.60M345.50,17.50L345.50,21.00M345.50,317.40L345.50,313.90M345.50,317.40L345.50,319.90M345.50,477.90L345.50,475.40M358.50,17.50L358.50,19.30M358.50,317.40L358.50,315.60M358.50,317.40L358.50,318.70M358.50,477.90L358.50,476.60M370.50,17.50L370.50,25.50M370.50,317.40L370.50,309.40M370.50,317.40L370.50,322.40M370.50,477.90L370.50,472.90M45.50,316.50L51.00,316.50M371.00,316.50L365.50,316.50M45.50,313.50L51.00,313.50M371.00,313.50L365.50,313.50M45.50,311.50L56.50,311.50M371.00,311.50L360.00,311.50M45.50,296.50L51.00,296.50M371.00,296.50L365.50,296.50M45.50,287.50L51.00,287.50M371.00,287.50L365.50,287.50M45.50,280.50L51.00,280.50M371.00,280.50L365.50,280.50M45.50,275.50L51.00,275.50M371.00,275.50L365.50,275.50M45.50,271.50L51.00,271.50M371.00,271.50L365.50,271.50M45.50,268.50L51.00,268.50M371.00,268.50L365.50,268.50M45.50,265.50L51.00,265.50M371.00,265.50L365.50,265.50M45.50,262.50L51.00,262.50M371.00,262.50L365.50,262.50M45.50,260.50L56.50,260.50M371.00,260.50L360.00,260.50M45.50,244.50L51.00,244.50M371.00,244.50L365.50,244.50M45.50,235.50L51.00,235.50M371.00,235.50L365.50,235.50M45.50,229.50L51.00,229.50M371.00,229.50L365.50,229.50M45.50,224.50L51.00,224.50M371.00,224.50L365.50,224.50M45.50,220.50L51.00,220.50M371.00,220.50L365.50,220.50M45.50,216.50L51.00,216.50M371.00,216.50L365.50,216.50M45.50,213.50L51.00,213.50M371.00,213.50L365.50,213.50M45.50,211.50L51.00,211.50M371.00,211.50L365.50,211.50M45.50,208.50L56.50,208.50M371.00,208.50L360.00,208.50M45.50,193.50L51.00,193.50M371.00,193.50L365.50,193.50M45.50,184.50L51.00,184.50M371.00,184.50L365.50,184.50M45.50,177.50L51.00,177.50M371.00,177.50L365.50,177.50M45.50,172.50L51.00,172.50M371.00,172.50L365.50,172.50M45.50,168.50L51.00,168.50M371.00,168.50L365.50,168.50M45.50,165.50L51.00,165.50M371.00,165.50L365.50,165.50M45.50,162.50L51.00,162.50M371.00,162.50L365.50,162.50M45.50,159.50L51.00,159.50M371.00,159.50L365.50,159.50M45.50,157.50L56.50,157.50M371.00,157.50L360.00,157.50M45.50,141.50L51.00,141.50M371.00,141.50L365.50,141.50M45.50,132.50L51.00,132.50M371.00,132.50L365.50,132.50M45.50,126.50L51.00,126.50M371.00,126.50L365.50,126.50M45.50,121.50L51.00,121.50M371.00,121.50L365.50,121.50M45.50,117.50L51.00,117.50M371.00,117.50L365.50,117.50M45.50,113.50L51.00,113.50M371.00,113.50L365.50,113.50M45.50,110.50L51.00,110.50M371.00,110.50L365.50,110.50M45.50,108.50L51.00,108.50M371.00,108.50L365.50,108.50M45.50,105.50L56.50,105.50M371.00,105.50L360.00,105.50M45.50,90.50L51.00,90.50M371.00,90.50L365.50,90.50M45.50,81.50L51.00,81.50M371.00,81.50L365.50,81.50M45.50,75.50L51.00,75.50M371.00,75.50L365.50,75.50M45.50,70.50L51.00,70.50M371.00,70.50L365.50,70.50M45.50,65.50L51.00,65.50M371.00,65.50L365.50,65.50M45.50,62.50L51.00,62.50M371.00,62.50L365.50,62.50M45.50,59.50L51.00,59.50M371.00,59.50L365.50,59.50M45.50,56.50L51.00,56.50M371.00,56.50L365.50,56.50M45.50,54.50L56.50,54.50M371.00,54.50L360.00,54.50M45.50,39.50L51.00,39.50M371.00,39.50L365.50,39.50M45.50,30.50L51.00,30.50M371.00,30.50L365.50,30.50M45.50,23.50L51.00,23.50M371.00,23.50L365.50,23.50M45.50,18.50L51.00,18.50M371.00,18.50L365.50,18.50M45.50,458.50L52.50,458.50M371.00,458.50L364.00,458.50M45.50,442.50L50.50,442.50M371.00,442.50L366.00,442.50M45.50,428.50L50.50,428.50M371.00,428.50L366.00,428.50M45.50,417.50L50.50,417.50M371.00,417.50L366.00,417.50M45.50,406.50L50.50,406.50M371.00,406.50L366.00,406.50M45.50,397.50L52.50,397.50M371.00,397.50L364.00,397.50M45.50,389.50L50.50,389.50M371.00,389.50L366.00,389.50M45.50,381.50L50.50,381.50M371.00,381.50L366.00,381.50M45.50,374.50L50.50,374.50M371.00,374.50L366.00,374.50M45.50,368.50L50.50,368.50M371.00,368.50L366.00,368.50M45.50,362.50L50.50,362.50M371.00,362.50L366.00,362.50M45.50,356.50L50.50,356.50M371.00,356.50L366.00,356.50M45.50,351.50L50.50,351.50M371.00,351.50L366.00,351.50M45.50,346.50L50.50,346.50M371.00,346.50L366.00,346.50M45.50,341.50L50.50,341.50M371.00,341.50L366.00,341.50M45.50,336.50L52.50,336.50M371.00,336.50L364.00,336.50M45.50,332.50L50.50,332.50M371.00,332.50L366.00,332.50M45.50,328.50L50.50,328.50M371.00,328.50L366.00,328.50M45.50,324.50L50.50,324.50M371.00,324.50L366.00,324.50M45.50,320.50L50.50,320.50M371.00,320.50L366.00,320.50" stroke="#000" stroke-width="1" fill="none"/>
<g font-family="'Liberation Sans', sans-serif" fill="#000"><text x="51.5" y="13.8" font-size="12">13000 GeV pp</text><text x="365" y="13.8" font-size="12" text-anchor="end">Z+Jet</text><text x="83.6" y="41.7" font-size="12">Transmin region, 60 &lt;</text><text x="204.2" y="41.7" font-size="12">p</text><text x="208.6" y="35.6" font-size="8.5">Z</text><text x="209.4" y="48.4" font-size="8.5">T</text><text x="217.3" y="41.7" font-size="12">&lt; 80 [GeV], low thrust</text><text transform="translate(15,17.5) rotate(-90)" font-size="12" text-anchor="end">1/N<tspan font-size="8" dy="3.3">ev</tspan><tspan dy="-3.3"> dN</tspan><tspan font-size="8" dy="3.3">ev</tspan><tspan dy="-3.3">/d mean p</tspan><tspan font-size="8.6" dy="6.7">T</tspan><tspan dy="-6.7"> [GeV]</tspan><tspan font-size="7" dy="-7.5">1</tspan></text><text x="40.5" y="58.8" font-size="12" text-anchor="end">10</text><text x="40" y="109.8" font-size="12" text-anchor="end">1</text><text x="20.96" y="162.9" font-size="11.4">10</text><rect x="33.10" y="155.60" width="3.8" height="0.9" fill="#000"/><text x="36.70" y="157.90" font-size="7.5">1</text><text x="18.86" y="214.0" font-size="11.4">10</text><rect x="31.00" y="206.70" width="3.8" height="0.9" fill="#000"/><text x="35.40" y="209.00" font-size="7.5">2</text><text x="18.86" y="265.5" font-size="11.4">10</text><rect x="31.00" y="258.20" width="3.8" height="0.9" fill="#000"/><text x="35.40" y="260.50" font-size="7.5">3</text><text x="18.86" y="317.0" font-size="11.4">10</text><rect x="31.00" y="309.70" width="3.8" height="0.9" fill="#000"/><text x="34.75" y="312.00" font-size="7.5">4</text><text x="38.4" y="340.8" font-size="12" text-anchor="end">2</text><text x="38.4" y="401.6" font-size="12" text-anchor="end">1</text><text x="38.4" y="462.5" font-size="12" text-anchor="end">0.5</text><text x="374" y="340.8" font-size="12">2</text><text x="374" y="401.6" font-size="12">1</text><text x="374" y="462.5" font-size="12">0.5</text><text transform="translate(19.5,427.5) rotate(-90)" font-size="9.3">Ratio to ATLAS</text><text x="120.6" y="489" font-size="12" text-anchor="middle">1</text><text x="246" y="489" font-size="12" text-anchor="middle">2</text><text x="371" y="489" font-size="12" text-anchor="middle">3</text><text x="289" y="500.8" font-size="12.4">Mean p</text><text x="329.8" y="507.5" font-size="8">T</text><text x="334.3" y="500.8" font-size="12">/d&#951; d&#981;</text><rect x="73.9" y="240.9" width="5.5" height="5.5" fill="#000"/><line x1="64" y1="256.5" x2="89" y2="256.5" stroke="#ff7f2a" stroke-width="1.2" stroke-dasharray="3.8,1.9,1.1,1.5"/><rect x="74.4" y="254.2" width="4.5" height="4.5" fill="#ff7f2a"/><line x1="64" y1="269.3" x2="89" y2="269.3" stroke="#0000e6" stroke-width="1.2"/><polygon points="76.6,266.7 79.4,272.6 73.8,272.6" fill="#0000e6"/><text x="94.3" y="247" font-size="9.5">ATLAS</text><text x="94.1" y="259.5" font-size="9.5">Pythia 6.423 default</text><text x="94.1" y="272" font-size="9.5">Pythia 8.315 default</text><text x="162.4" y="301.7" font-size="8" fill="#999">(ATLAS_2019_I1736531)</text><text transform="translate(380.9,313.6) rotate(-90)" font-size="9.4" fill="#888">mcplots.cern.ch [arXiv:2401.10621]</text><text transform="translate(380.2,128.2) rotate(-90)" font-size="9.5" fill="#888">Rivet 4.1.0, ≥ 600k events</text></g>
</svg></body></html>
